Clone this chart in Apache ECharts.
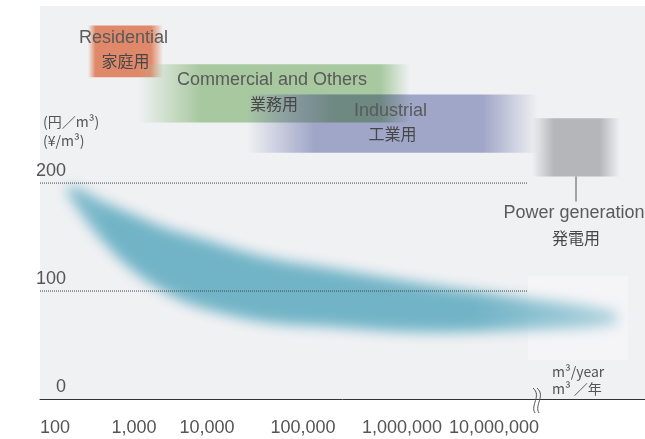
<!DOCTYPE html>
<html><head><meta charset="utf-8">
<script src="https://cdn.jsdelivr.net/npm/echarts@6/dist/echarts.min.js"></script>
<style>html,body{margin:0;padding:0;background:#fff}#c{width:645px;height:439px}</style>
</head><body><div id="c"></div>
<script>
// x axis: schematic position scale (labels are irregularly spaced in the original)
const xTickPos    = [15, 94, 167, 263, 362, 454];
const xTickLabels = ['100', '1,000', '10,000', '100,000', '1,000,000', '10,000,000'];
const yTicks = [0, 100, 200];

// price band (yen / m3): half-intensity upper and lower edges
const bandX     = [28, 43, 60, 93, 127, 160, 227, 290, 380, 480, 575];
const bandUpper = [197, 193, 184, 171, 158, 149, 131, 121, 107, 94, 81];
const bandLower = [190, 169, 149, 119, 98, 85, 71, 67, 62, 64, 69];

// usage sectors (ranges along the volume axis and price bands)
const sectors       = ['Residential', 'Commercial and Others', 'Industrial', 'Power generation'];
const sectorsJa     = ['家庭用', '業務用', '工業用', '発電用'];
const sectorXStart  = [48, 98, 207, 492];
const sectorXEnd    = [123, 370, 498, 580];
const sectorYTop    = [346, 310, 282, 260];
const sectorYBottom = [298, 256, 228, 206];

const refLines = [100, 200];
const refLineEnd = 487;
const powerZone = [[488, 36], [588, 114]];

// ---- styles ----
const boxStyle = [
  {rgb: [224, 137, 106], fl: 0.10, fr: 0.16},
  {rgb: [168, 200, 160], fl: 0.23, fr: 0.11},
  {rgb: [160, 166, 200], fl: 0.23, fr: 0.19},
  {rgb: [181, 182, 185], fl: 0.25, fr: 0.23}
];
const overlapRGB = [110, 136, 130];
const bandRGB = [114, 180, 199];
function rgba(c, a) { return 'rgba(' + c[0] + ',' + c[1] + ',' + c[2] + ',' + a + ')'; }
const LAT = '"Liberation Sans", Arial, sans-serif';
const JP = '"Noto Sans CJK JP", sans-serif';

function bandItem(params, api) {
  const OFF = 3000;
  const top = [], bot = [];
  for (let j = 0; j < bandX.length; j++) {
    const a = api.coord([bandX[j], bandUpper[j]]);
    const b = api.coord([bandX[j], bandLower[j]]);
    top.push([a[0] + OFF, a[1]]);
    bot.unshift([b[0] + OFF, b[1]]);
  }
  return {
    type: 'polygon',
    shape: {points: top.concat(bot), smooth: 0.35},
    style: {
      fill: new echarts.graphic.LinearGradient(0, 0, 1, 0, [
        {offset: 0, color: rgba(bandRGB, 0.85)},
        {offset: 0.08, color: rgba(bandRGB, 1)},
        {offset: 0.74, color: rgba(bandRGB, 1)},
        {offset: 0.9, color: rgba(bandRGB, 0.7)},
        {offset: 1, color: rgba(bandRGB, 0.5)}
      ]),
      shadowBlur: 13, shadowColor: rgba(bandRGB, 1), shadowOffsetX: -OFF, shadowOffsetY: 0
    }
  };
}

function boxItem(params, api) {
  const i = params.dataIndex;
  const p0 = api.coord([sectorXStart[i], sectorYTop[i]]);
  const p1 = api.coord([sectorXEnd[i], sectorYBottom[i]]);
  const c = boxStyle[i];
  const children = [{
    type: 'rect',
    shape: {x: p0[0], y: p0[1], width: p1[0] - p0[0], height: p1[1] - p0[1]},
    style: {
      fill: new echarts.graphic.LinearGradient(0, 0, 1, 0, [
        {offset: 0, color: rgba(c.rgb, 0)},
        {offset: c.fl, color: rgba(c.rgb, 1)},
        {offset: 1 - c.fr, color: rgba(c.rgb, 1)},
        {offset: 1, color: rgba(c.rgb, 0)}
      ])
    }
  }];
  if (i === 2) {
    // where Commercial and Industrial overlap the colours mix (multiply-like)
    const j = 1;
    const xa = Math.max(sectorXStart[i], sectorXStart[j]), xb = Math.min(sectorXEnd[i], sectorXEnd[j]);
    const ya = Math.min(sectorYTop[i], sectorYTop[j]), yb = Math.max(sectorYBottom[i], sectorYBottom[j]);
    const q0 = api.coord([xa, ya]), q1 = api.coord([xb, yb]);
    const w = q1[0] - q0[0];
    const fl = (c.fl * (p1[0] - p0[0]) + 20) / w;
    const cj = boxStyle[j];
    const pj0 = api.coord([sectorXStart[j], 0]), pj1 = api.coord([sectorXEnd[j], 0]);
    const fr = cj.fr * (pj1[0] - pj0[0]) / w;
    children.push({
      type: 'rect',
      shape: {x: q0[0], y: q0[1], width: w, height: q1[1] - q0[1]},
      style: {
        fill: new echarts.graphic.LinearGradient(0, 0, 1, 0, [
          {offset: 0, color: rgba(overlapRGB, 0)},
          {offset: fl, color: rgba(overlapRGB, 1)},
          {offset: 1 - fr, color: rgba(overlapRGB, 1)},
          {offset: 1, color: rgba(overlapRGB, 0)}
        ])
      }
    });
  }
  return {type: 'group', children: children};
}

function labelItem(params, api) {
  const i = params.dataIndex;
  const p0 = api.coord([sectorXStart[i], sectorYTop[i]]);
  const p1 = api.coord([sectorXEnd[i], sectorYBottom[i]]);
  const cx = (p0[0] + p1[0]) / 2;
  let yEn, yJa;
  const children = [];
  if (i === 3) {
    children.push({type: 'line', shape: {x1: cx, y1: p1[1], x2: cx, y2: p1[1] + 25},
      style: {stroke: '#555', lineWidth: 1}});
    yEn = p1[1] + 36; yJa = p1[1] + 61;
  } else {
    const cy = (p0[1] + p1[1]) / 2;
    yEn = cy - 13; yJa = cy + 10;
  }
  children.push({type: 'text', style: {text: sectors[i], x: cx - 2, y: yEn, align: 'center', verticalAlign: 'middle',
    font: '18px ' + LAT, fill: '#5a5a5a'}});
  children.push({type: 'text', style: {text: sectorsJa[i], x: cx, y: yJa, align: 'center', verticalAlign: 'middle',
    font: '16px ' + JP, fill: '#474747'}});
  return {type: 'group', children: children};
}

const chart = echarts.init(document.getElementById('c'), null, {renderer: 'canvas'});
const sectorData = sectors.map((s, i) => [sectorXStart[i], sectorYTop[i], sectorXEnd[i], sectorYBottom[i]]);
const series = [
  {type: 'custom', name: 'band', renderItem: bandItem, data: [[bandX[0], bandUpper[0]]], z: 2, silent: true, clip: false},
  {type: 'custom', name: 'sectors', renderItem: boxItem, data: sectorData,
    encode: {x: [0, 2], y: [1, 3]}, z: 2, silent: true}
];
refLines.forEach((v, idx) => {
  const s = {type: 'line', data: [[0, v], [refLineEnd, v]], symbol: 'none', silent: true, z: 3,
    lineStyle: {color: '#444', width: 1, type: [1, 1]}};
  if (idx === 0) {
    s.markArea = {silent: true, itemStyle: {color: 'rgba(255,255,255,0.32)'},
      data: [[{coord: powerZone[0]}, {coord: powerZone[1]}]]};
  }
  series.push(s);
});
series.push({type: 'custom', name: 'labels', renderItem: labelItem, data: sectorData,
  encode: {x: [0, 2], y: [1, 3]}, z: 5, silent: true});

chart.setOption({
  animation: false,
  backgroundColor: '#ffffff',
  grid: {left: 40, right: 0, top: 6, bottom: 40, show: true, backgroundColor: '#f0f1f3', borderWidth: 0,
    outerBoundsMode: 'none', containLabel: false},
  xAxis: {
    type: 'value', min: 0, max: 605,
    axisLine: {show: true, lineStyle: {color: '#333', width: 1}},
    axisTick: {show: false}, splitLine: {show: false},
    axisLabel: {customValues: xTickPos, formatter: v => xTickLabels[xTickPos.indexOf(v)],
      margin: 20, fontSize: 18, color: '#555', fontFamily: LAT}
  },
  yAxis: {
    type: 'value', min: 0, max: 364,
    axisLine: {show: false}, axisTick: {show: false}, splitLine: {show: false},
    axisLabel: {customValues: yTicks, inside: true, align: 'right', margin: 26, verticalAlign: 'bottom',
      padding: [0, 0, 3, 0], fontSize: 18, color: '#555', fontFamily: LAT}
  },
  graphic: [
    {type: 'text', left: 43, top: 112, z: 10, style: {text: '(円／m³)\n(¥/m³)', font: '14px ' + JP, lineHeight: 19, fill: '#555'}},
    {type: 'text', left: 552, top: 363, z: 10, style: {text: 'm³/year\nm³ ／年', font: '14px ' + JP, lineHeight: 17, fill: '#555'}},
    {type: 'bezierCurve', z: 10, shape: {x1: 533, y1: 388, cpx1: 542, cpy1: 396, cpx2: 530, cpy2: 405, x2: 535, y2: 413},
      style: {stroke: '#555', lineWidth: 1, fill: null}},
    {type: 'bezierCurve', z: 10, shape: {x1: 537, y1: 388, cpx1: 546, cpy1: 396, cpx2: 534, cpy2: 405, x2: 539, y2: 413},
      style: {stroke: '#555', lineWidth: 1, fill: null}}
  ],
  series: series
});
</script></body></html>
